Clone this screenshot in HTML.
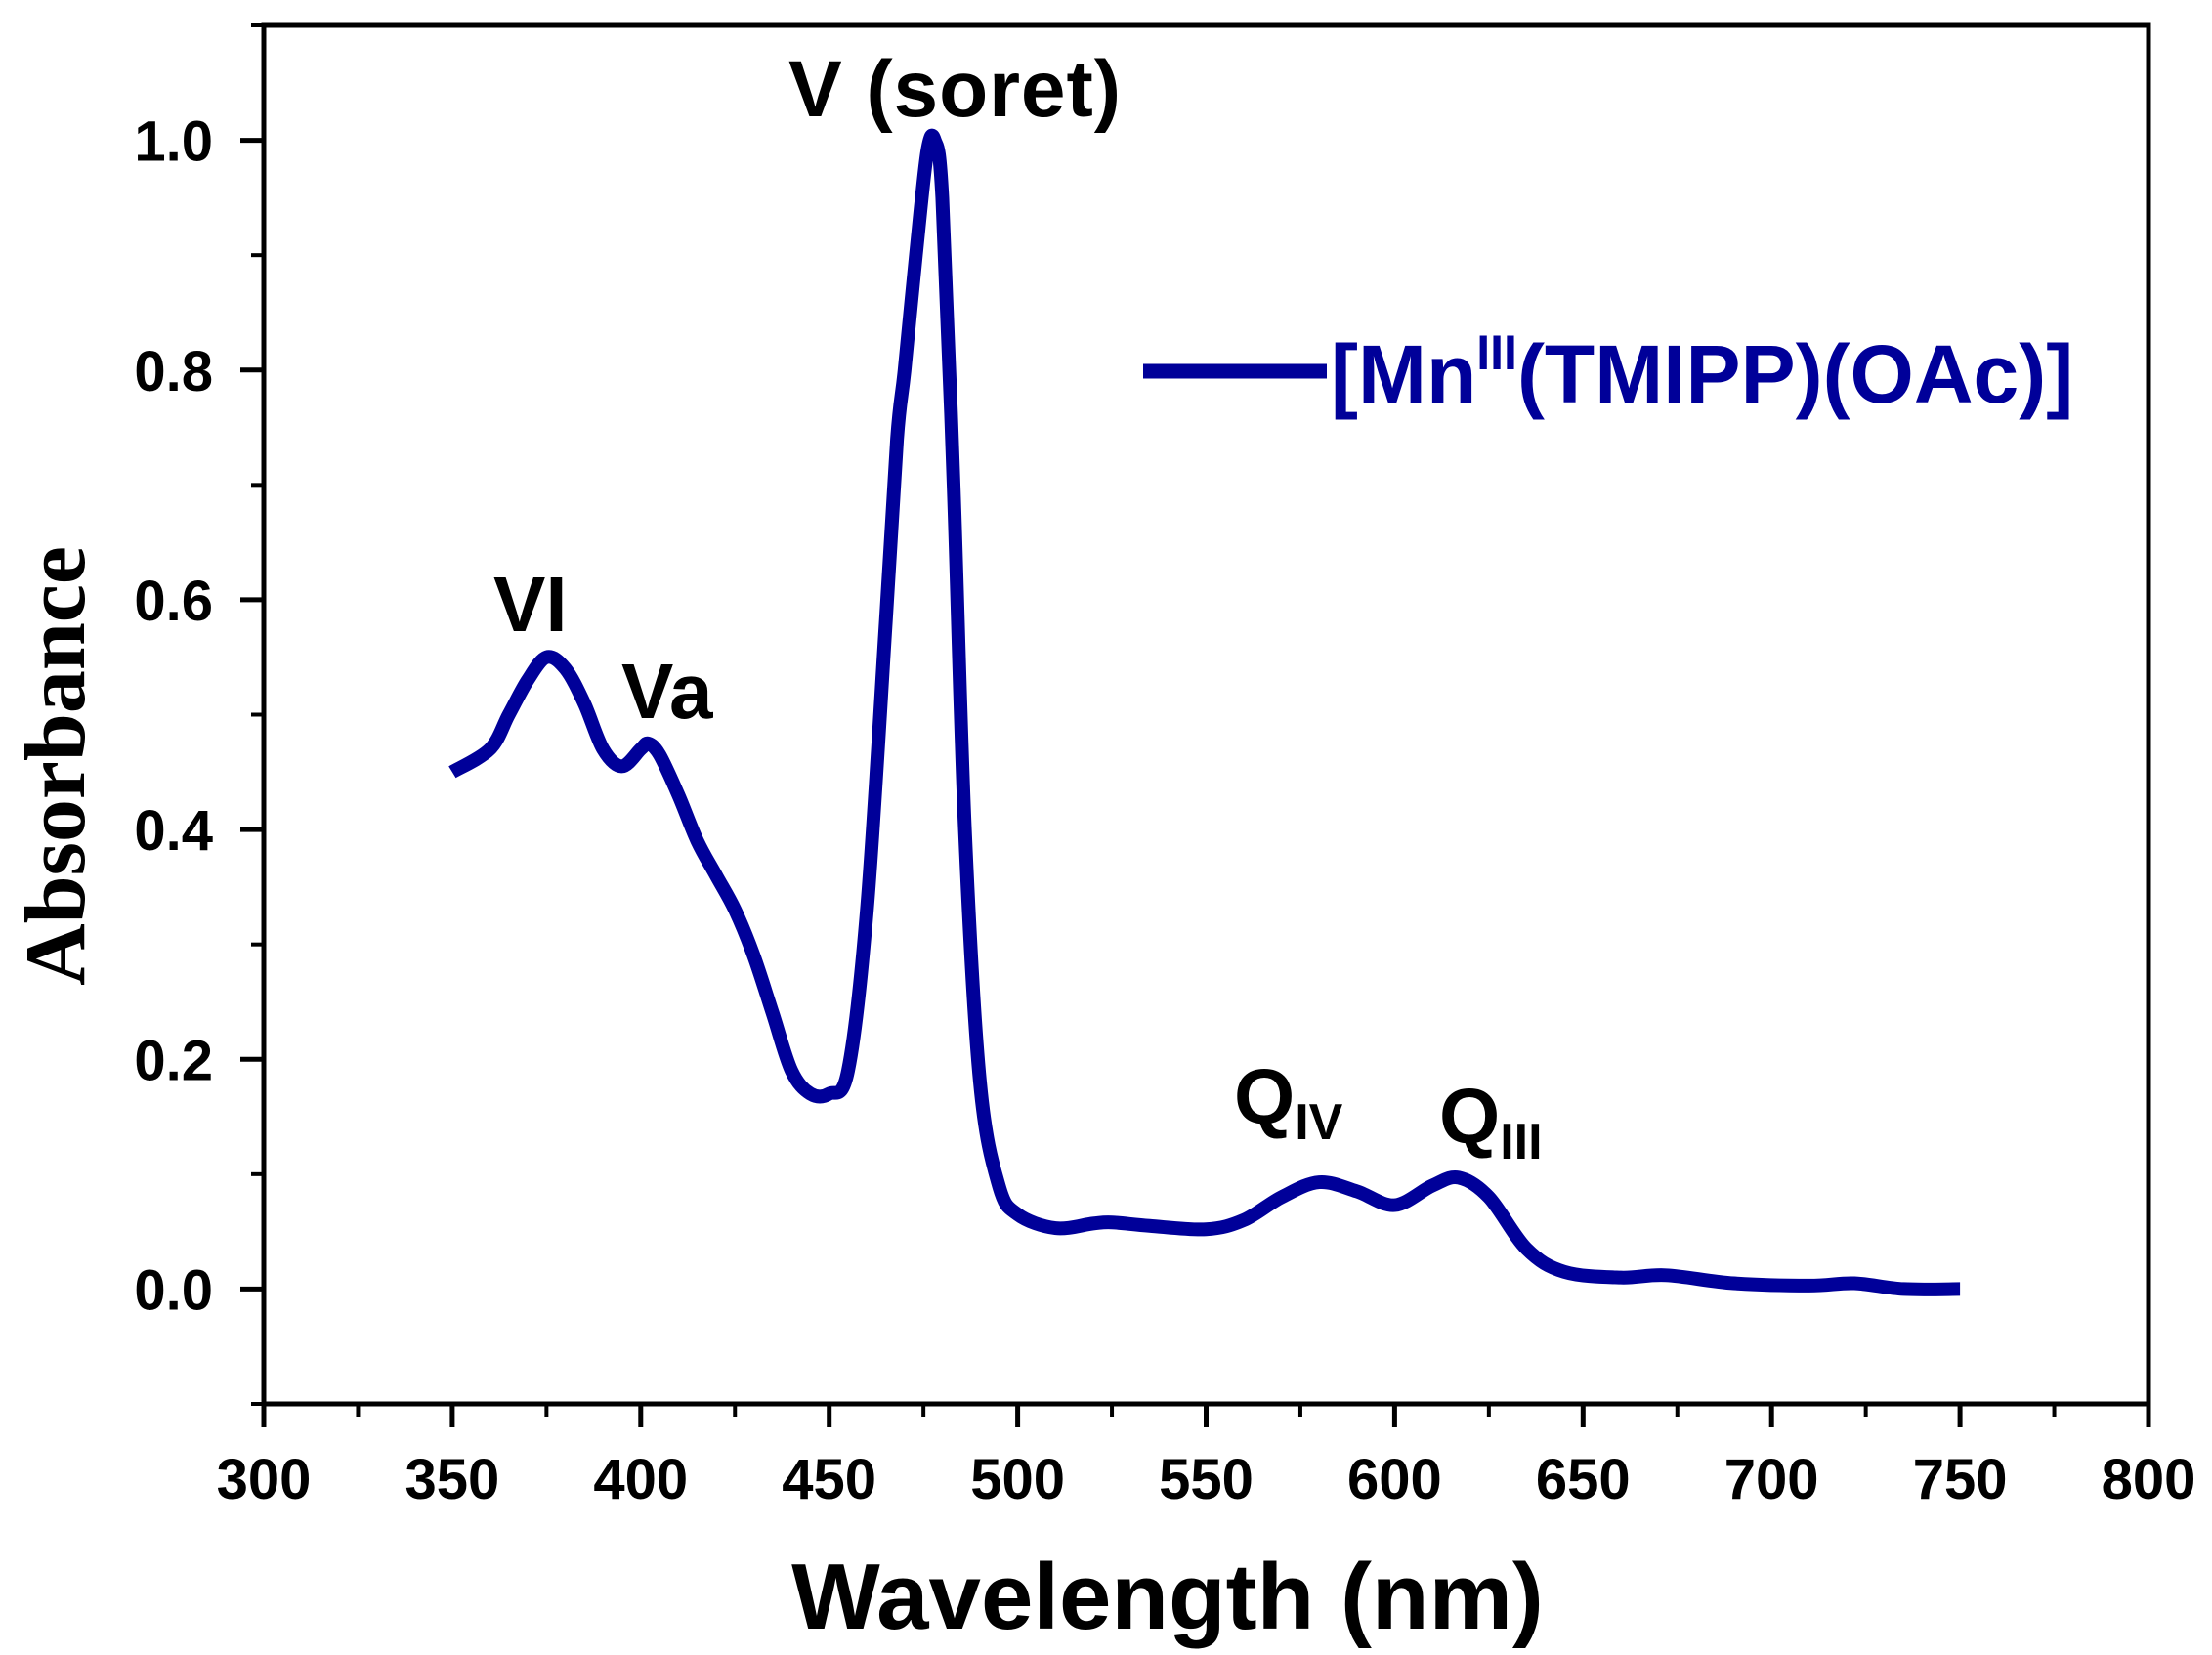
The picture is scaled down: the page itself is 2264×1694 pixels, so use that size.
<!DOCTYPE html>
<html><head><meta charset="utf-8"><style>
html,body{margin:0;padding:0;background:#fff;}
svg{display:block;}
text{font-family:"Liberation Sans",Arial,sans-serif;font-weight:bold;}
</style></head><body>
<svg id="chart" width="2264" height="1694" viewBox="0 0 2264 1694" xmlns="http://www.w3.org/2000/svg">
<g id="axes"></g>
<path id="curve" fill="none" stroke="#000099" stroke-width="14" stroke-linejoin="round" stroke-linecap="butt"/>
<text x="807" y="119" font-size="82" textLength="340" fill="#000">V (soret)</text>
<text x="505" y="646" font-size="80" fill="#000">VI</text>
<text x="636" y="735" font-size="80" fill="#000">Va</text>
<text x="1263" y="1150" font-size="80" fill="#000">Q<tspan font-size="52" dy="16">IV</tspan></text>
<text x="1473" y="1170" font-size="80" fill="#000">Q<tspan font-size="52" dy="16">III</tspan></text>
<line x1="1170" y1="380" x2="1358" y2="380" stroke="#000099" stroke-width="15"/>
<text x="1362" y="412" font-size="84" fill="#000099">[Mn<tspan font-size="50" dy="-34">III</tspan><tspan dy="34">(TMIPP)(OAc)]</tspan></text>
<text x="1195" y="1667" font-size="96" text-anchor="middle" fill="#000">Wavelength (nm)</text>
<text transform="translate(86,784) rotate(-90)" font-size="88" text-anchor="middle" fill="#000" style="font-family:'Liberation Serif',serif">Absorbance</text>
</svg>
<script>
const wavelengths=[350,360,365,370,375,380,385,390,395,400,402,405,410,415,420,425,430,435,440,445,450,455,460,465,468,470,473,476,478,480,483,486,490,495,500,510,520,525,535,550,560,570,580,590,600,610,617,625,635,645,660,672,690,710,722,735,750];
const absorbance=[0.45,0.47,0.50,0.53,0.55,0.54,0.51,0.47,0.455,0.47,0.475,0.465,0.43,0.39,0.36,0.33,0.29,0.24,0.19,0.17,0.17,0.19,0.33,0.58,0.74,0.80,0.90,0.99,1.00,0.95,0.70,0.40,0.18,0.09,0.065,0.053,0.057,0.058,0.055,0.052,0.06,0.08,0.093,0.085,0.073,0.09,0.097,0.08,0.035,0.015,0.01,0.012,0.005,0.003,0.005,0.0,0.0];
const xTicks=[300,350,400,450,500,550,600,650,700,750,800];
const yTicks=[0.0,0.2,0.4,0.6,0.8,1.0];
const yTickLabels=["0.0","0.2","0.4","0.6","0.8","1.0"];
const L=270,R=2199,T=26,B=1437,X0=300,X1=800,Y0=-0.1,Y1=1.1;
function sx(v){return L+(v-X0)/(X1-X0)*(R-L);}
function sy(v){return B-(v-Y0)/(Y1-Y0)*(B-T);}
const NS="http://www.w3.org/2000/svg";
const ax=document.getElementById('axes');
function mk(tag,attrs,parent){const e=document.createElementNS(NS,tag);for(const k in attrs)e.setAttribute(k,attrs[k]);(parent||ax).appendChild(e);return e;}
const frame=mk('rect',{x:L,y:T,width:R-L,height:B-T,fill:'none',stroke:'#000',"stroke-width":5});


xTicks.forEach((v,i)=>{
  const t=mk('line',{x1:sx(v),x2:sx(v),y1:B,y2:B+24,stroke:'#000',"stroke-width":5});
  
  
  const lb=mk('text',{x:sx(v),y:B+97,"font-size":58,"text-anchor":"middle",fill:'#000'});
  
  
  lb.textContent=v;
  if(i<xTicks.length-1){
    const m=mk('line',{x1:sx(v+25),x2:sx(v+25),y1:B,y2:B+13,stroke:'#000',"stroke-width":4});
    
    
  }
});
yTicks.forEach((v,i)=>{
  const t=mk('line',{x1:L-24,x2:L,y1:sy(v),y2:sy(v),stroke:'#000',"stroke-width":5});
  
  
  const lb=mk('text',{x:L-52,y:sy(v)+21,"font-size":58,"text-anchor":"end",fill:'#000'});
  
  
  lb.textContent=yTickLabels[i];
});
[-0.1,0.1,0.3,0.5,0.7,0.9,1.1].forEach(v=>{
  const m=mk('line',{x1:L-13,x2:L,y1:sy(v),y2:sy(v),stroke:'#000',"stroke-width":4});
  
  
});
const pts=wavelengths.map((w,i)=>[sx(w),sy(absorbance[i])]);
let d='M'+pts[0][0]+','+pts[0][1];
for(let i=0;i<pts.length-1;i++){
  const p0=pts[Math.max(0,i-1)],p1=pts[i],p2=pts[i+1],p3=pts[Math.min(pts.length-1,i+2)];
  const c1=[p1[0]+(p2[0]-p0[0])/6,p1[1]+(p2[1]-p0[1])/6];
  const c2=[p2[0]-(p3[0]-p1[0])/6,p2[1]-(p3[1]-p1[1])/6];
  d+=' C'+c1[0]+','+c1[1]+' '+c2[0]+','+c2[1]+' '+p2[0]+','+p2[1];
}
document.getElementById('curve').setAttribute('d',d);
</script>
</body></html>
